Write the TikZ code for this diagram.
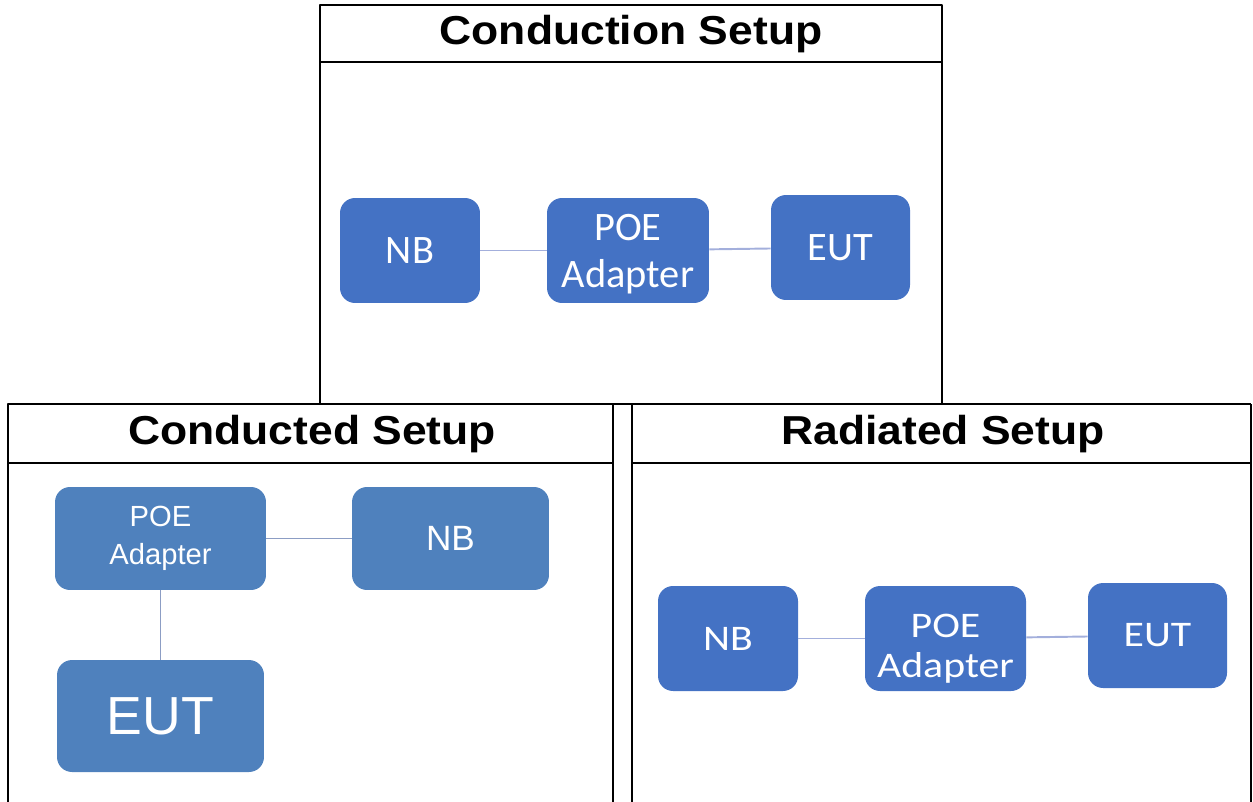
\documentclass[tikz,border=0pt]{standalone}
\usepackage{fontspec}
\setmainfont{Liberation Sans}
\newfontfamily\titlefont{Liberation Sans Bold}[FakeStretch=1.1]
\newfontfamily\calibri{Carlito}
\newfontfamily\widecalibri{Carlito}[FakeStretch=1.16]
\usetikzlibrary{positioning}

\definecolor{boxblue}{HTML}{4472C4}
\definecolor{steelblue}{HTML}{4F81BD}
\definecolor{wireblue}{HTML}{A3AFDC}
\definecolor{wiregrey}{HTML}{8C9DC4}

\begin{document}
\begin{tikzpicture}[
    x = 0.02cm, y = -0.02cm,
    line join=round,
    frame/.style = {line width=1.6pt, black},
    title/.style = {font=\titlefont\fontsize{23}{26}\selectfont, inner sep=0pt, anchor=base},
    unit/.style = {rounded corners=0.3cm, fill=boxblue, text=white, align=center,
                   minimum height=2.1cm, inner sep=0pt,
                   font=\calibri\fontsize{23}{26.6}\selectfont},
    wideunit/.style = {unit, font=\widecalibri\fontsize{20.5}{22.7}\selectfont},
    oldunit/.style = {rounded corners=0.3cm, fill=steelblue, text=white, align=center,
                   inner sep=0pt},
    wire/.style = {line width=1.1pt, wireblue},
    oldwire/.style = {line width=1.1pt, wiregrey}
]

\useasboundingbox (0,0) rectangle (1253,801);

% panels
\draw[frame] (320,404) -- (320,5) -- (942,5) -- (942,404);
\draw[frame] (320,62) -- (942,62);
\draw[frame] (8,803) -- (8,404) -- (1251,404);
\draw[frame] (613,803) -- (613,404);
\draw[frame] (632,803) -- (632,404);
\draw[frame] (1251,803) -- (1251,404);
\draw[frame] (8,463) -- (613,463);
\draw[frame] (632,463) -- (1251,463);

\node[title] (t1) at (631,44) {Conduction Setup};
\node[title] (t2) at (312,444) {Conducted Setup};
\node[title] (t3) at (943,444) {Radiated Setup};

% conduction setup
\node[unit, minimum width=2.8cm] (nb1) at (410,250.5) {NB};
\node[unit, minimum width=3.24cm] (poe1) at (628,250.5) {\rule{0pt}{19pt}POE\\Adapter};
\node[unit, minimum width=2.78cm] (eut1) at (840.5,247.5) {EUT};

\draw[wire] (nb1) -- (poe1);
\draw[wire] (poe1) -- (eut1);

% conducted setup
\node[oldunit, minimum width=4.22cm, minimum height=2.06cm,
      font=\fontsize{16.6}{21.5}\selectfont] (poe2) at (160.5,538.5) {POE\\Adapter};
\node[oldunit, minimum width=3.94cm, minimum height=2.06cm,
      font=\fontsize{20}{22}\selectfont] (nb2) at (450.5,538.5) {NB};
\node[oldunit, minimum width=4.14cm, minimum height=2.24cm,
      font=\fontsize{30.5}{36}\selectfont] (eut2) at (160.5,716) {EUT};

\draw[oldwire] (poe2) -- (nb2);
\draw[oldwire] (poe2) -- (eut2);

% radiated setup
\node[wideunit, minimum width=2.8cm] (nb3) at (728,638.5) {NB};
\node[wideunit, minimum width=3.22cm] (poe3) at (945.5,638.5) {\rule{0pt}{25pt}POE\\Adapter};
\node[wideunit, minimum width=2.78cm] (eut3) at (1157.5,635.5) {EUT};

\draw[wire] (nb3) -- (poe3);
\draw[wire] (poe3) -- (eut3);

\end{tikzpicture}
\end{document}
